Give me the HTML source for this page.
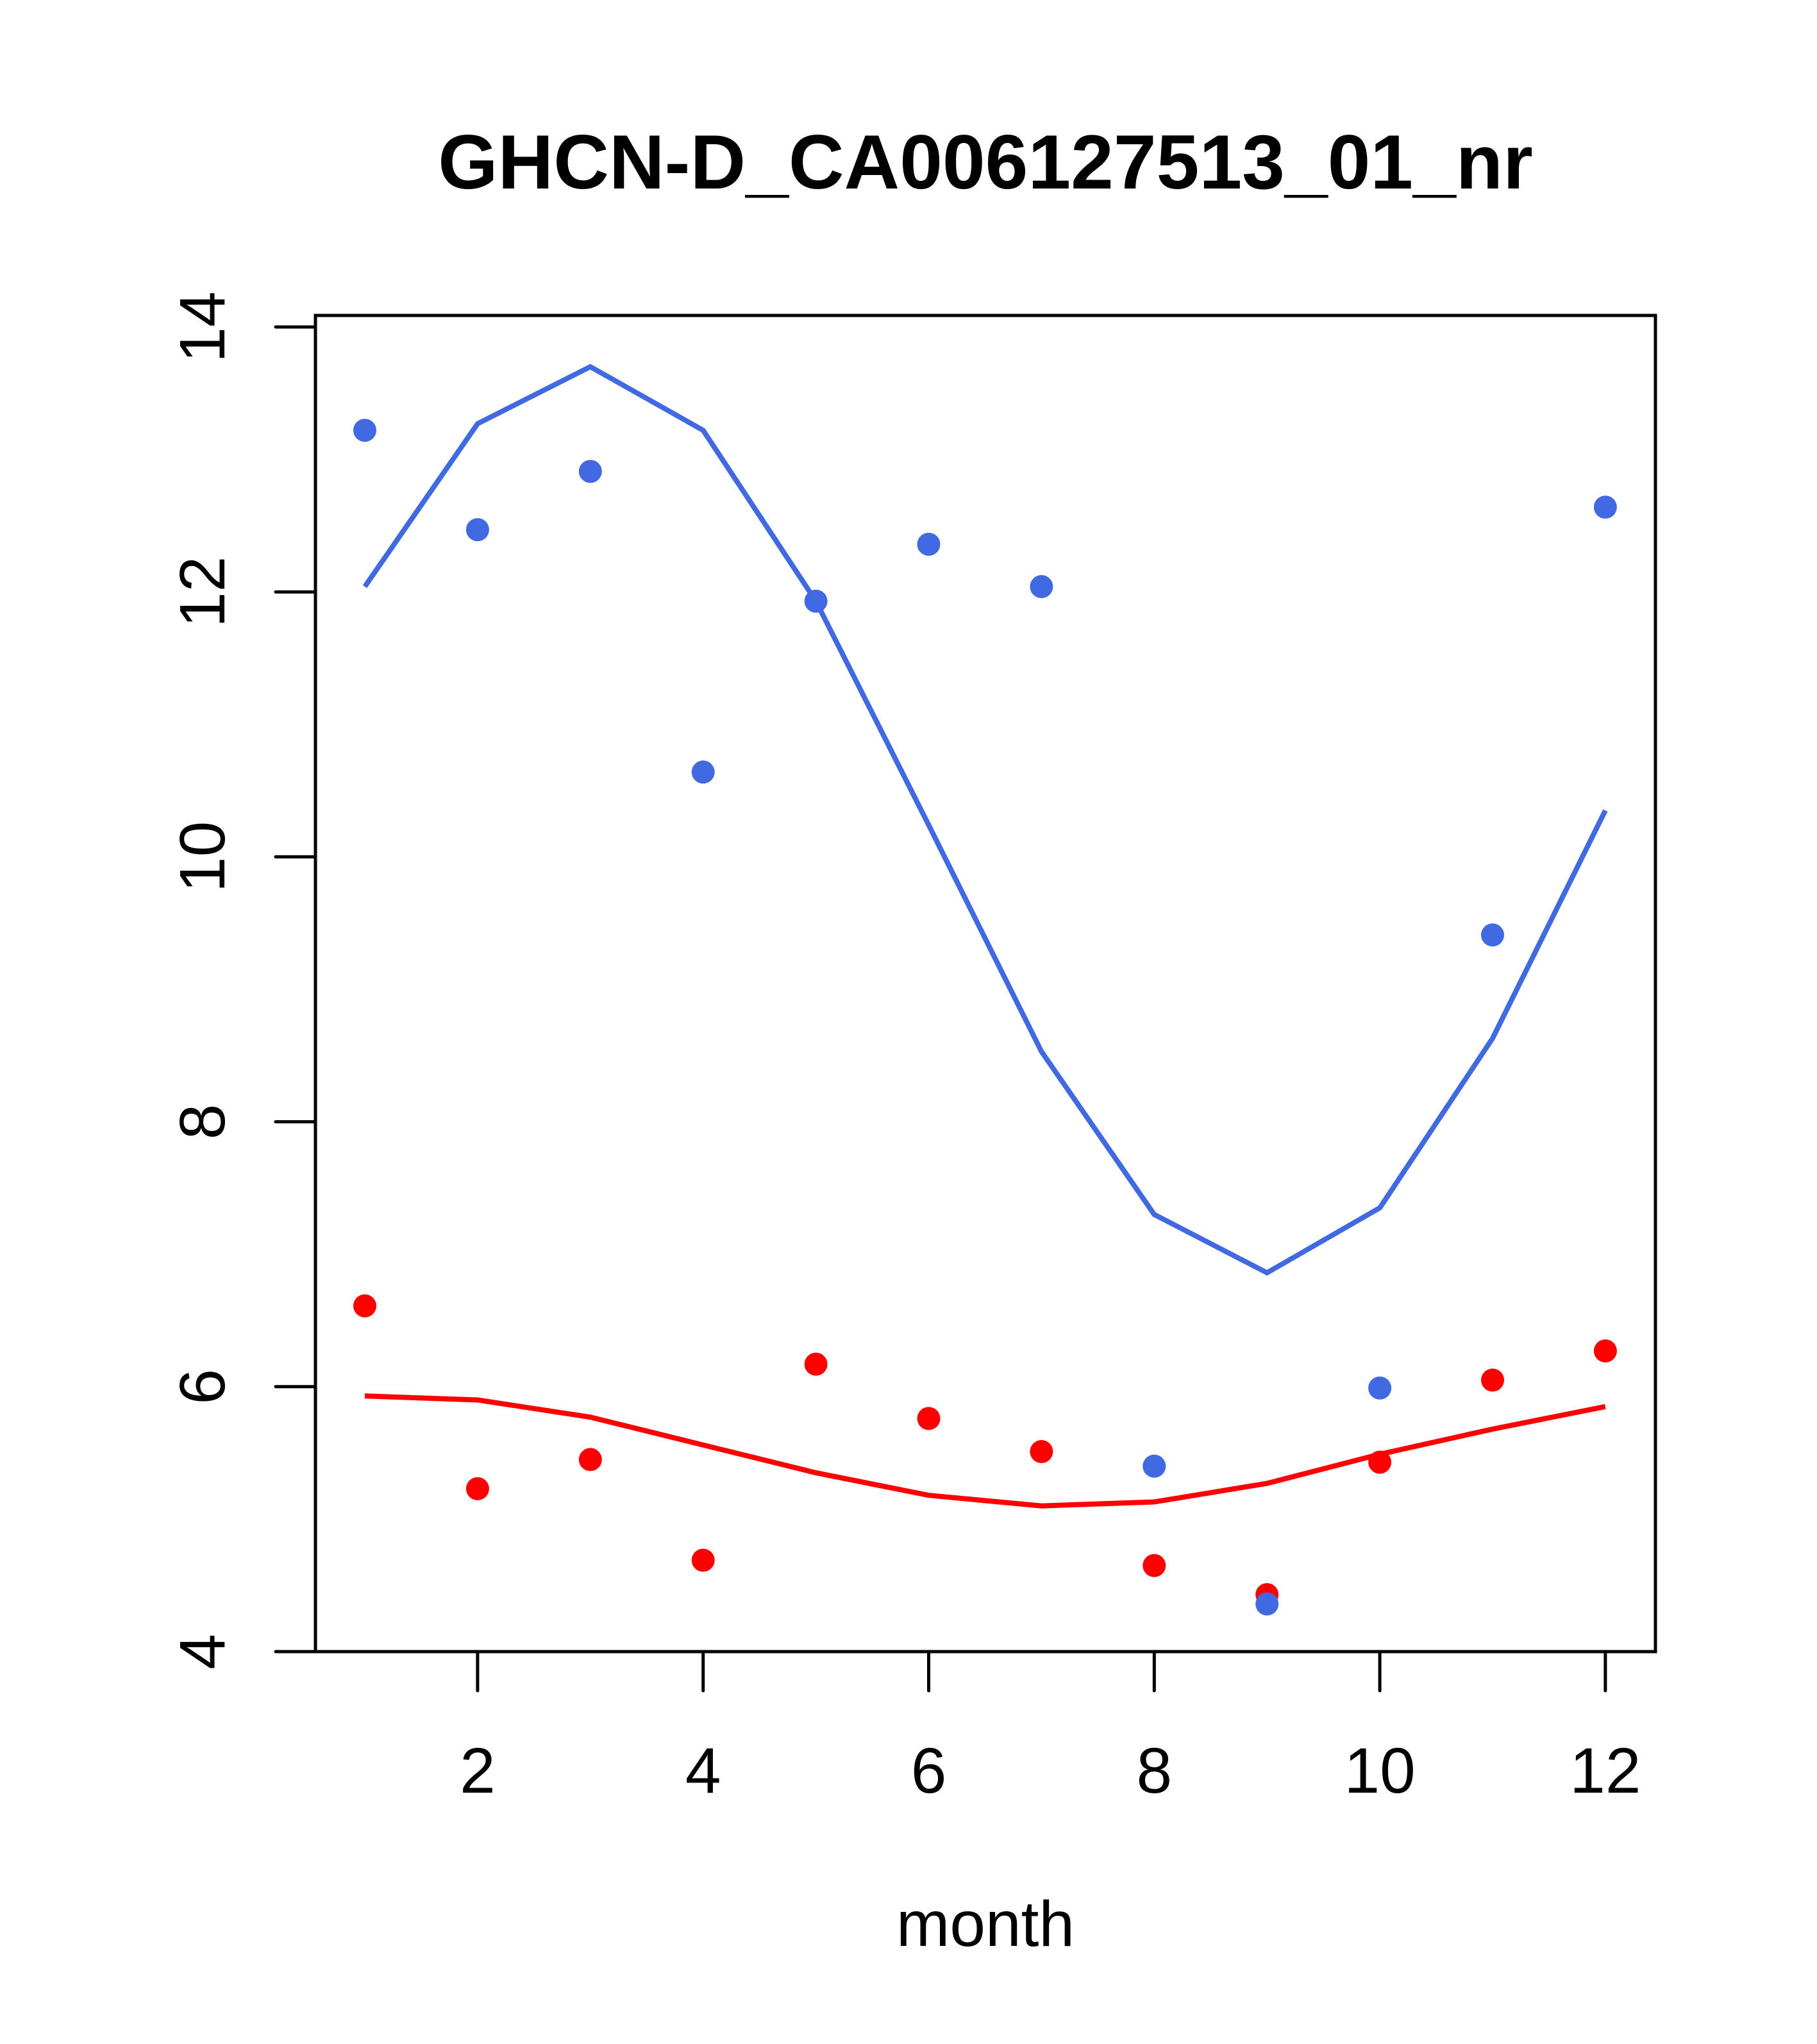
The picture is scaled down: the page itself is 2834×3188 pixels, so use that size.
<!DOCTYPE html>
<html><head><meta charset="utf-8"><style>body{margin:0;background:#fff}svg{display:block}</style></head>
<body>
<svg id="chart" width="2834" height="3188" viewBox="0 0 2834 3188" xmlns="http://www.w3.org/2000/svg" font-family="Liberation Sans, Arial, sans-serif">
<text x="1537" y="294" font-size="120" font-weight="bold" text-anchor="middle">GHCN-D_CA006127513_01_nr</text>
<rect x="492" y="492" width="2090" height="2084" fill="none" stroke="#000" stroke-width="5"/>
<g id="axes"></g>
<g id="marks"></g>
<text x="1537" y="3035" font-size="100" text-anchor="middle">month</text>
</svg>
<script>
const months = [1,2,3,4,5,6,7,8,9,10,11,12];
const bluePoints = [13.22,12.47,12.91,10.64,11.93,12.36,12.04,5.40,4.36,5.99,9.41,12.64];
const blueLine = [12.04,13.27,13.70,13.22,11.93,10.24,8.53,7.30,6.86,7.35,8.63,10.35];
const redPoints = [6.61,5.23,5.45,4.69,6.17,5.76,5.51,4.65,4.43,5.43,6.05,6.27];
const redLine = [5.93,5.90,5.77,5.56,5.35,5.18,5.10,5.13,5.27,5.49,5.68,5.85];
const xTicks = [2,4,6,8,10,12];
const yTicks = [4,6,8,10,12,14];
const NS='http://www.w3.org/2000/svg';
const xs = m => 569 + (m-1)*175.9;
const ys = v => 2576 - (v-4)*206.6;
const axes=document.getElementById('axes'), marks=document.getElementById('marks');
function mk(t,a,p){const e=document.createElementNS(NS,t);for(const k in a)e.setAttribute(k,a[k]);p.appendChild(e);return e;}
xTicks.forEach(t=>{
  const l=mk('line',{x1:xs(t),x2:xs(t),y1:2576,y2:2637,stroke:'#000','stroke-width':5,'stroke-linecap':'round'},axes);
  
  
  const tx=mk('text',{x:xs(t),y:2796,'font-size':100,'text-anchor':'middle'},axes);
  tx.textContent=t;
  
  
});
yTicks.forEach(t=>{
  const l=mk('line',{x1:430,x2:492,y1:ys(t),y2:ys(t),stroke:'#000','stroke-width':5,'stroke-linecap':'round'},axes);
  
  
  const tx=mk('text',{x:350,y:ys(t),'font-size':100,'text-anchor':'middle',transform:`rotate(-90 350 ${ys(t)})`},axes);
  tx.textContent=t;
  
  
});
function line(vals,color,name){
  const p=mk('polyline',{points:vals.map((v,i)=>xs(months[i])+','+ys(v)).join(' '),fill:'none',stroke:color,'stroke-width':8},marks);
  
  
}
function pts(vals,color,name){
  vals.forEach((v,i)=>{
    const c=mk('circle',{cx:xs(months[i]),cy:ys(v),r:18,fill:color},marks);
    
    
  });
}
line(redLine,'#FF0000','red-fit-line');
pts(redPoints,'#FF0000','red-point');
line(blueLine,'#4169E1','blue-fit-line');
pts(bluePoints,'#4169E1','blue-point');
</script>
</body></html>
